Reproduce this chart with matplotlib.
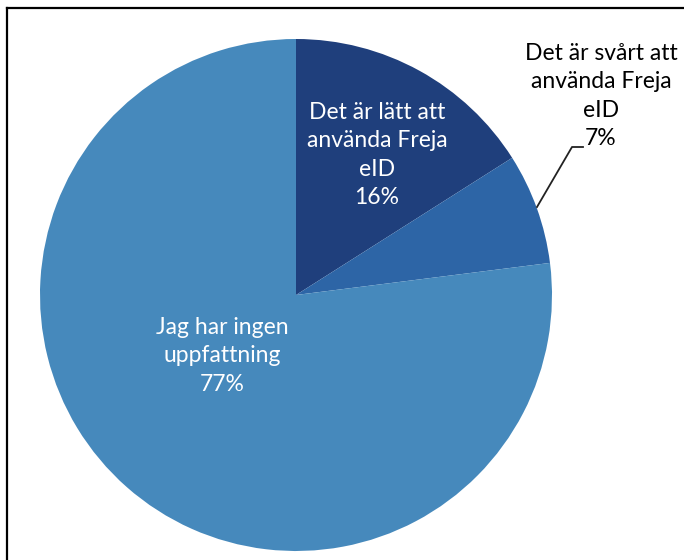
import matplotlib
matplotlib.use('Agg')
from matplotlib import pyplot as plt
from matplotlib.lines import Line2D

plt.rcParams['font.family'] = ['Lato', 'DejaVu Sans']

labels = ['Det är lätt att\nanvända Freja\neID', 'Det är svårt att\nanvända Freja\neID',
          'Jag har ingen\nuppfattning']
shares = [16, 7, 77]
colors = ['#1F3F7C', '#2D65A6', '#4689BC']
text_colors = ['white', 'black', 'white']

W, H = 684, 560
fig = plt.figure(figsize=(W / 100, H / 100), dpi=100)
ax = fig.add_axes([0, 0, 1, 1])

cx, cy, r = 296, H - 295, 256
ax.pie(shares, colors=colors, startangle=90, counterclock=False,
       center=(cx, cy), radius=r, frame=True,
       wedgeprops=dict(linewidth=0))
ax.set_xlim(0, W)
ax.set_ylim(0, H)
ax.set_aspect('equal')
ax.axis('off')

# label positions (pixels from top-left)
label_pos = [(377, 155), (601, 96), (222, 356)]
for lab, s, (x, y), tc in zip(labels, shares, label_pos, text_colors):
    ax.text(x, H - y, f'{lab}\n{s}%', ha='center', va='center', color=tc,
            fontsize=16.5, linespacing=1.42)

# leader line for the small slice
ax.plot([537, 572, 583], [H - 207, H - 147, H - 147], color='#222222', lw=1.3)

# screenshot frame (top and left edges)
fig.add_artist(Line2D([7 / W, 7 / W], [0, 1 - 8 / H], transform=fig.transFigure,
                      color='black', lw=1.6))
fig.add_artist(Line2D([7 / W, 1], [1 - 8 / H, 1 - 8 / H], transform=fig.transFigure,
                      color='black', lw=1.6))

plt.savefig('out.png', dpi=100, facecolor='white')
